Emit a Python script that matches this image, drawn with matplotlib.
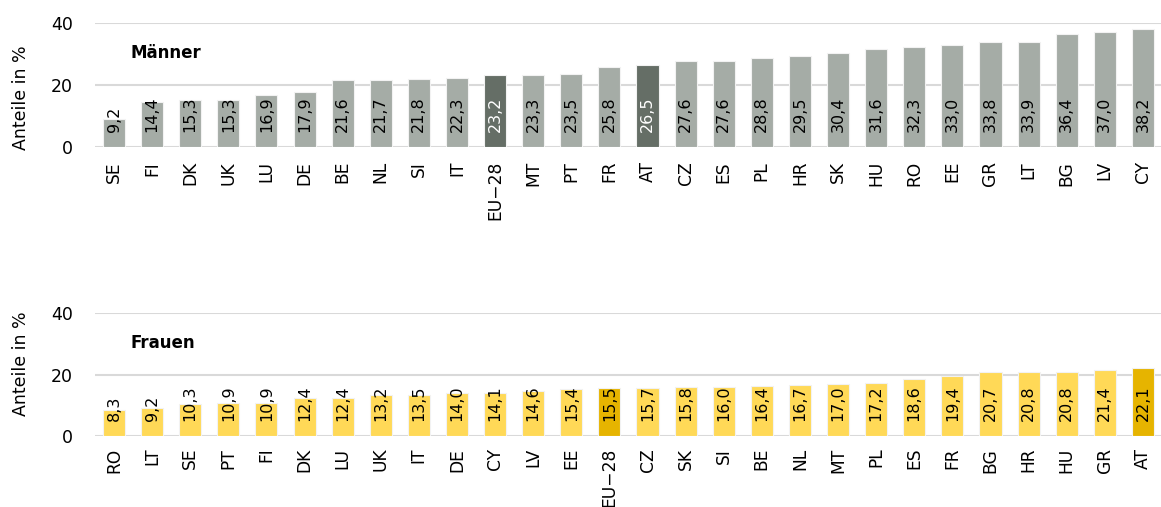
import matplotlib.pyplot as plt
import numpy as np

# Männer
men_countries = ["SE", "FI", "DK", "UK", "LU", "DE", "BE", "NL", "SI", "IT", "EU−28", "MT", "PT", "FR",
                 "AT", "CZ", "ES", "PL", "HR", "SK", "HU", "RO", "EE", "GR", "LT", "BG", "LV", "CY"]
men_values = [9.2, 14.4, 15.3, 15.3, 16.9, 17.9, 21.6, 21.7, 21.8, 22.3, 23.2, 23.3, 23.5, 25.8,
              26.5, 27.6, 27.6, 28.8, 29.5, 30.4, 31.6, 32.3, 33.0, 33.8, 33.9, 36.4, 37.0, 38.2]

# Frauen
women_countries = ["RO", "LT", "SE", "PT", "FI", "DK", "LU", "UK", "IT", "DE", "CY", "LV", "EE", "EU−28",
                   "CZ", "SK", "SI", "BE", "NL", "MT", "PL", "ES", "FR", "BG", "HR", "HU", "GR", "AT"]
women_values = [8.3, 9.2, 10.3, 10.9, 10.9, 12.4, 12.4, 13.2, 13.5, 14.0, 14.1, 14.6, 15.4, 15.5,
                15.7, 15.8, 16.0, 16.4, 16.7, 17.0, 17.2, 18.6, 19.4, 20.7, 20.8, 20.8, 21.4, 22.1]

highlight = ["EU−28", "AT"]
yticks = [0, 20, 40]

plt.rcParams["font.family"] = "DejaVu Sans"


def draw_panel(ax, countries, values, title, light, dark, dark_text, ylabel_y, xpad):
    x = np.arange(len(countries))
    colors = [dark if c in highlight else light for c in countries]
    ax.bar(x, values, width=0.58, color=colors, edgecolor="#f2f2f2", linewidth=0.8, zorder=2)

    for xi, v, c in zip(x, values, countries):
        txt_color = dark_text if c in highlight else "black"
        ax.text(xi, 5.0, f"{v:.1f}".replace(".", ","), rotation=90, ha="center", va="bottom",
                fontsize=11.5, color=txt_color, zorder=3)

    ax.set_xlim(-0.5, len(countries) - 0.5)
    ax.set_ylim(0, 40)
    ax.set_yticks(yticks)
    ax.set_xticks(x)
    ax.set_xticklabels(countries, rotation=90, fontsize=12.3)
    ax.tick_params(axis="y", length=0, pad=16, labelsize=12.5)
    ax.tick_params(axis="x", length=0, pad=xpad)
    ax.grid(axis="y", color="#d9d9d9", linewidth=1.5, zorder=0)
    for s in ax.spines.values():
        s.set_visible(False)

    ax.text(0.033, 0.76, title, transform=ax.transAxes, fontsize=12, fontweight="bold",
            va="center", ha="left")
    ax.set_ylabel("Anteile in %", fontsize=12.5)
    ax.yaxis.set_label_coords(-0.061, ylabel_y)


fig = plt.figure(figsize=(11.61, 5.07), dpi=100)
ax1 = fig.add_axes([0.0818, 0.710, 0.919, 0.2446])
ax2 = fig.add_axes([0.0818, 0.140, 0.919, 0.2426])

draw_panel(ax1, men_countries, men_values, "Männer", "#a5aca6", "#656e66", "white", 0.40, 10)
draw_panel(ax2, women_countries, women_values, "Frauen", "#ffd957", "#e6b400", "black", 0.59, 8.5)

fig.savefig("out.png", dpi=100)
